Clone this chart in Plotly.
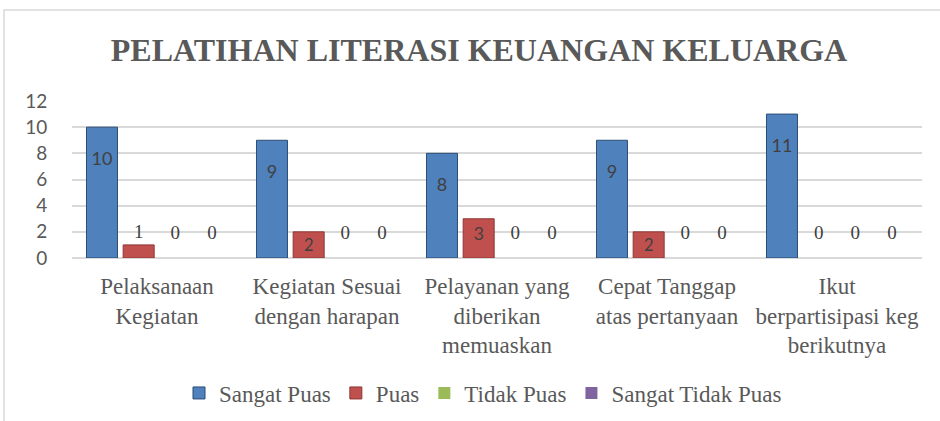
import plotly.graph_objects as go

categories = [
    "Pelaksanaan<br>Kegiatan",
    "Kegiatan Sesuai<br>dengan harapan",
    "Pelayanan yang<br>diberikan<br>memuaskan",
    "Cepat Tanggap<br>atas pertanyaan",
    "Ikut<br>berpartisipasi keg<br>berikutnya",
]
sangat_puas = [10, 9, 8, 9, 11]
puas = [1, 2, 3, 2, 0]
tidak_puas = [0, 0, 0, 0, 0]
sangat_tidak_puas = [0, 0, 0, 0, 0]
y_ticks = [0, 2, 4, 6, 8, 10, 12]

SANS = "Lato"
SERIF = "Liberation Serif"

ZERO_TPL = "<span style='font-size:19px'>%{y}</span><br>\u00a0"

fig = go.Figure()
fig.add_trace(go.Bar(
    name="Sangat Puas", x=categories, y=sangat_puas,
    marker=dict(color="#4F81BD", line=dict(color="#2C4D75", width=1)),
    text=sangat_puas,
    texttemplate="\u00a0<br><span style='font-size:18px'>%{y}</span>",
    textposition="inside", insidetextanchor="end", textangle=0,
    textfont=dict(family=SANS, size=15, color="#404040"),
))
fig.add_trace(go.Bar(
    name="Puas", x=categories, y=puas,
    marker=dict(color="#C0504D", line=dict(color="#8C3836",
                width=[1 if v > 0 else 0 for v in puas])),
    text=puas,
    textposition=["inside" if v >= 2 else "outside" for v in puas],
    texttemplate=[ZERO_TPL if v == 0 else
                  ("%{y}" if v >= 2 else "<span style='font-size:19px'>%{y}</span>")
                  for v in puas],
    insidetextanchor="end", textangle=0,
    textfont=dict(family=SANS, size=18, color="#404040"),
    outsidetextfont=dict(family=SERIF, size=11, color="#404040"),
))
fig.add_trace(go.Bar(
    name="Tidak Puas", x=categories, y=tidak_puas,
    marker=dict(color="#9BBB59", line=dict(color="#71893F", width=0)),
    text=tidak_puas, textposition="outside", textangle=0,
    texttemplate=ZERO_TPL,
    textfont=dict(family=SERIF, size=11, color="#404040"),
))
fig.add_trace(go.Bar(
    name="Sangat Tidak Puas", x=categories, y=sangat_tidak_puas,
    marker=dict(color="#8064A2", line=dict(color="#5C4776", width=0)),
    text=sangat_tidak_puas, textposition="outside", textangle=0,
    texttemplate=ZERO_TPL,
    textfont=dict(family=SERIF, size=11, color="#404040"),
))

L, R, T, B = 72, 18, 101, 163
W, H = 940, 421
pw, ph = W - L - R, H - T - B

fig.update_layout(
    width=W, height=H,
    margin=dict(l=L, r=R, t=T, b=B, autoexpand=False),
    paper_bgcolor="white", plot_bgcolor="white",
    barmode="group", bargap=0.137, bargroupgap=0.155,
    font=dict(family=SERIF, color="#595959"),
    title=dict(
        text="<b>PELATIHAN LITERASI KEUANGAN KELUARGA</b>",
        font=dict(family=SERIF, size=32, color="#595959"),
        x=(479 - L) / pw, xref="paper", xanchor="center",
        y=1 - 50 / H, yref="container", yanchor="middle",
    ),
    showlegend=True,
    legend=dict(
        orientation="h", x=(483 - L) / pw, xanchor="center",
        y=(H - B - 393) / ph, yanchor="middle",
        font=dict(family=SERIF, size=23, color="#595959"),
        traceorder="normal", itemclick=False,
    ),
    xaxis=dict(
        showgrid=False, showline=False, zeroline=False,
        ticks="outside", ticklen=7, tickcolor="rgba(0,0,0,0)",
        tickfont=dict(family=SERIF, size=23, color="#595959"),
        tickangle=0, automargin=False,
    ),
    yaxis=dict(
        range=[0, 12], tickvals=y_ticks,
        showgrid=True, gridcolor="#D9D9D9", gridwidth=1.5,
        zeroline=True, zerolinecolor="#D9D9D9", zerolinewidth=1.5,
        showline=False, automargin=False,
        ticks="outside", ticklen=20, tickcolor="rgba(0,0,0,0)",
        tickfont=dict(family=SANS, size=19, color="#595959"),
    ),
    shapes=[dict(
        type="rect", xref="paper", yref="paper",
        x0=(4 - L) / pw, x1=(W + 20 - L) / pw,
        y0=(H - B - (H + 20)) / ph, y1=(H - B - 10) / ph,
        line=dict(color="#D9D9D9", width=1.5), fillcolor="rgba(0,0,0,0)",
        layer="below",
    )],
)

fig.write_html(
    "out.html",
    config={"displayModeBar": False},
    post_script="document.body.style.margin='0';document.body.style.padding='0';",
)
